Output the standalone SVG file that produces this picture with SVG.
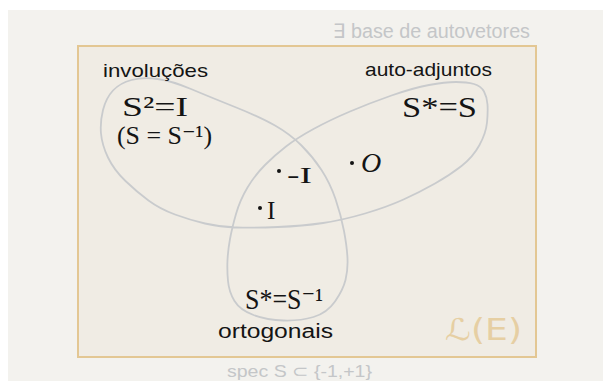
<svg xmlns="http://www.w3.org/2000/svg" width="603" height="381" viewBox="0 0 603 381">
<defs>
<style>
.hand{font-family:"Liberation Sans","DejaVu Sans",sans-serif;fill:#141414;}
.math{font-family:"Liberation Serif","DejaVu Serif",serif;fill:#141414;}
.note{font-family:"Liberation Sans","DejaVu Sans",sans-serif;fill:#c4c6c8;}
.set{fill:none;stroke:#c9cbcd;stroke-width:1.8;stroke-linejoin:round;}
.pt{fill:#141414;}
</style>
</defs>
<rect x="0" y="0" width="603" height="381" fill="#ffffff"/>
<rect x="8" y="10" width="595" height="371" fill="#f3f2ee"/>
<g id="universe">
<rect x="78" y="46" width="458" height="311" fill="#f0ece4" stroke="#e3c793" stroke-width="2"/>
<text x="445" y="340" font-family="DejaVu Sans, sans-serif" font-size="30" fill="#e6cfa3" textLength="77" lengthAdjust="spacingAndGlyphs">ℒ(E)</text>
</g>
<g id="connectors">
<path class="set" d="M456,82 Q467,82 474,84 Q481,86 484,91.5 Q487,97 487.5,104.5 Q488,112 487,122.5 Q486,133 479.5,145 Q473,157 461.5,166 Q450,175 435,183.5 Q420,192 403.5,199.5 Q387,207 365,213.5 Q343,220 323,223 Q303,226 278,227 Q253,228 236.5,227.5 Q220,227 205,223.5 Q190,220 175,214.5 Q160,209 148.5,200.5 Q137,192 125.5,181 Q114,170 108,157.5 Q102,145 101,133.5 Q100,122 103,110 Q106,98 113,90.5 Q120,83 131.5,80 Q143,77 157.5,79 Q172,81 191,89 Q210,97 235,107 Q260,117 275,125.5 Q290,134 301.5,145.5 Q313,157 321.5,170 Q330,183 335.5,199 Q341,215 344,231 Q347,247 347.5,258.5 Q348,270 345.5,280 Q343,290 335,301.5 Q327,313 313.5,317 Q300,321 283.5,320.5 Q267,320 253.5,315 Q240,310 234.5,301 Q229,292 228,281 Q227,270 227.5,260 Q228,250 230,239 Q232,228 236,214 Q240,200 247.5,187.5 Q255,175 265,165 Q275,155 286,146.5 Q297,138 313.5,129 Q330,120 350,111.5 Q370,103 391.5,95.5 Q413,88 429,85 Q445,82 456,82 Z"/>
</g>
<g id="note-top">
<text class="note" x="333" y="38" font-size="20" textLength="197" lengthAdjust="spacingAndGlyphs">∃ base de autovetores</text>
</g>
<g id="involucoes">
<text class="hand" x="103" y="77" font-size="19" textLength="105" lengthAdjust="spacingAndGlyphs">involuções</text>
<text class="math" x="122" y="116" font-size="28" textLength="66" lengthAdjust="spacingAndGlyphs">S²=I</text>
<text class="math" x="117" y="144" font-size="26" textLength="95" lengthAdjust="spacingAndGlyphs">(S = S⁻¹)</text>
</g>
<g id="auto-adjuntos">
<text class="hand" x="365" y="76" font-size="19" textLength="127" lengthAdjust="spacingAndGlyphs">auto-adjuntos</text>
<text class="math" x="402" y="117" font-size="30" textLength="75" lengthAdjust="spacingAndGlyphs">S*=S</text>
</g>
<g id="ortogonais">
<text class="math" x="245" y="309" font-size="30" textLength="78" lengthAdjust="spacingAndGlyphs">S*=S⁻¹</text>
<text class="hand" x="218" y="338" font-size="20" textLength="115" lengthAdjust="spacingAndGlyphs">ortogonais</text>
</g>
<g id="point-minus-I">
<circle class="pt" cx="279" cy="171" r="2"/>
<text class="math" x="287" y="183" font-size="23" textLength="25" lengthAdjust="spacingAndGlyphs">-I</text>
</g>
<g id="point-I">
<circle class="pt" cx="260" cy="208" r="2"/>
<text class="math" x="267" y="219" font-size="25">I</text>
</g>
<g id="point-O">
<circle class="pt" cx="352" cy="163" r="2"/>
<text class="math" x="361" y="172" font-size="28" font-style="italic">O</text>
</g>
<g id="note-bottom">
<text class="note" x="227" y="377" font-size="17" textLength="145" lengthAdjust="spacingAndGlyphs">spec S ⊂ {-1,+1}</text>
</g>
</svg>
